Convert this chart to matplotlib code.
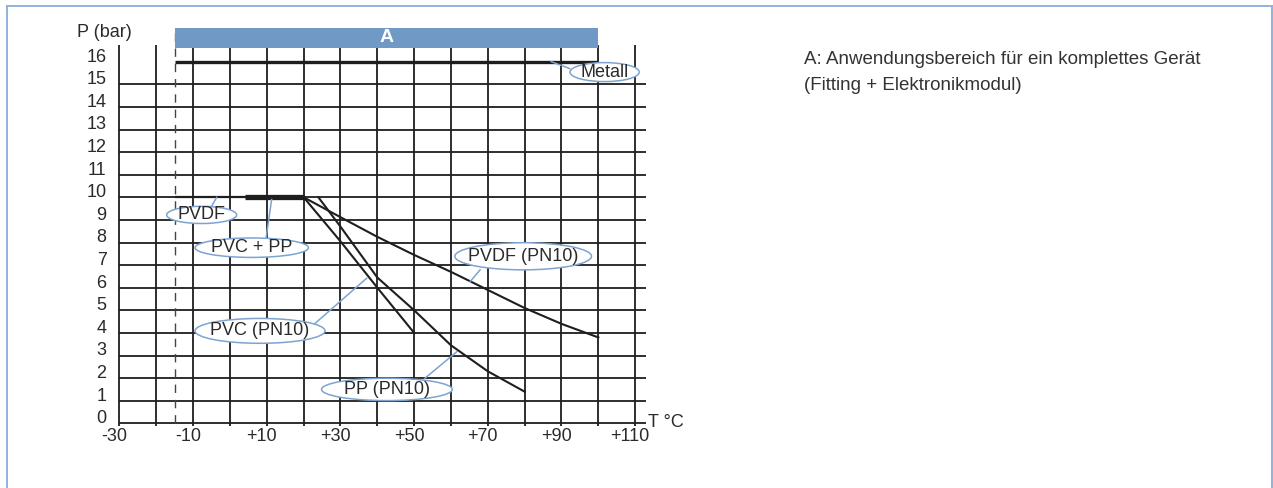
import matplotlib
matplotlib.use("Agg")
import matplotlib.pyplot as plt
from matplotlib.patches import Ellipse, Rectangle
from matplotlib.lines import Line2D

plt.rcParams['font.family'] = ['Liberation Sans', 'DejaVu Sans']

# data
x_ticks = [-30, -10, 10, 30, 50, 70, 90, 110]
x_labels = ['-30', '-10', '+10', '+30', '+50', '+70', '+90', '+110']
x_grid = list(range(-30, 111, 10))
y_ticks = list(range(0, 17))
y_grid = list(range(0, 16))

metall_x = [-15, 100]
metall_y = [16, 16]
pvdf_x = [-15, 20]
pvdf_y = [10, 10]
pvcpp_x = [4, 20]
pvcpp_y = [10, 10]
pvc_x = [20, 30, 40, 50]
pvc_y = [10, 8.05, 6.0, 4.0]
pp_x = [24, 30, 40, 50, 60, 70, 80]
pp_y = [10, 8.7, 6.45, 5.0, 3.45, 2.3, 1.4]
pvdf10_x = [20, 30, 40, 50, 60, 70, 80, 90, 100]
pvdf10_y = [10, 9.12, 8.25, 7.45, 6.7, 5.9, 5.1, 4.4, 3.8]

range_a = [-15, 100]

# label ellipses: text, centre, size, leader start (on curve), leader end (on ellipse)
labels = [
    ('Metall', (101.7, 15.54), (18.8, 0.84), (87.2, 16.0), (92.2, 15.7)),
    ('PVDF', (-7.7, 9.22), (19.0, 0.76), (-3.6, 10.0), (-5.0, 9.6)),
    ('PVC + PP', (5.9, 7.77), (30.8, 0.86), (11.3, 9.9), (9.8, 8.2)),
    ('PVC (PN10)', (8.15, 4.09), (35.3, 1.1), (37.1, 6.42), (23.1, 4.42)),
    ('PP (PN10)', (42.6, 1.5), (35.5, 0.99), (61.6, 3.17), (52.9, 1.99)),
    ('PVDF (PN10)', (79.6, 7.39), (37.1, 1.2), (65.2, 6.27), (67.9, 6.79)),
]

ink = '#1e1e1e'
blue = '#7199c6'
edge = '#7ea3d0'

fig = plt.figure(figsize=(12.73, 4.88), dpi=100)
ax = fig.add_axes([119.5 / 1273, 64.7 / 488, 530.4 / 1273, 395.5 / 488])
ax.set_xlim(-30, 114)
ax.set_ylim(0, 17.5)
ax.axis('off')

# grid
ax.vlines(x_grid, -0.12, 16.74, color=ink, lw=1.3, clip_on=False)
ax.hlines(y_grid, -30, 113, color=ink, lw=1.3, clip_on=False)
ax.plot([-15, -15], [0, 17.27], color='#444444', lw=1, ls=(0, (6, 5)), clip_on=False)

# range A band
ax.add_patch(Rectangle((range_a[0], 16.62), range_a[1] - range_a[0], 0.88,
                       facecolor=blue, edgecolor='none', clip_on=False, zorder=3))
ax.text(sum(range_a) / 2, 17.06, 'A', color='white', fontsize=14, fontweight='bold',
        ha='center', va='center', zorder=4)

# curves
ax.plot(metall_x, metall_y, color=ink, lw=2.4, solid_capstyle='butt', zorder=4)
ax.plot(pvdf_x, pvdf_y, color=ink, lw=1.6, solid_capstyle='butt', zorder=4)
ax.plot(pvcpp_x, pvcpp_y, color=ink, lw=3.8, solid_capstyle='butt', zorder=4)
ax.plot(pvc_x, pvc_y, color=ink, lw=1.5, zorder=4)
ax.plot(pp_x, pp_y, color=ink, lw=1.5, zorder=4)
ax.plot(pvdf10_x, pvdf10_y, color=ink, lw=1.5, zorder=4)

for txt, c, size, p0, p1 in labels:
    ax.plot([p0[0], p1[0]], [p0[1], p1[1]], color=edge, lw=1.1, zorder=5, clip_on=False)
    ax.add_patch(Ellipse(c, size[0], size[1], facecolor='white', edgecolor=edge,
                         lw=1.1, zorder=6, clip_on=False))
    ax.text(c[0], c[1], txt, fontsize=13, color='#2a2a2a', ha='center', va='center', zorder=7)

# tick labels
for v, s in zip(x_ticks, x_labels):
    ax.text(v - 1.4, -0.6, s, fontsize=13, color='#2a2a2a', ha='center', va='center', clip_on=False)
for v in y_ticks:
    ax.text(-33.5, v + 0.2, str(v), fontsize=13, color='#2a2a2a', ha='right', va='center', clip_on=False)
ax.text(-34.2, 17.3, 'P (bar)', fontsize=13, color='#2a2a2a', ha='center', va='center', clip_on=False)
ax.text(113.6, 0.05, 'T °C', fontsize=13, color='#2a2a2a', ha='left', va='center', clip_on=False)

# note on the right
fig.text(804 / 1273, 1 - 60 / 488, 'A: Anwendungsbereich für ein komplettes Gerät',
         fontsize=13.5, color='#333333', ha='left', va='center')
fig.text(804 / 1273, 1 - 85 / 488, '(Fitting + Elektronikmodul)',
         fontsize=13.5, color='#333333', ha='left', va='center')

# outer frame
fc = '#8fb3de'
fig.add_artist(Line2D([6.5 / 1273, 6.5 / 1273], [0, 1 - 6 / 488], color=fc, lw=1.4))
fig.add_artist(Line2D([6.5 / 1273, 1271.5 / 1273], [1 - 6 / 488, 1 - 6 / 488], color=fc, lw=1.4))
fig.add_artist(Line2D([1271.5 / 1273, 1271.5 / 1273], [0, 1 - 6 / 488], color=fc, lw=1.4))

fig.savefig('out.png', dpi=100)
